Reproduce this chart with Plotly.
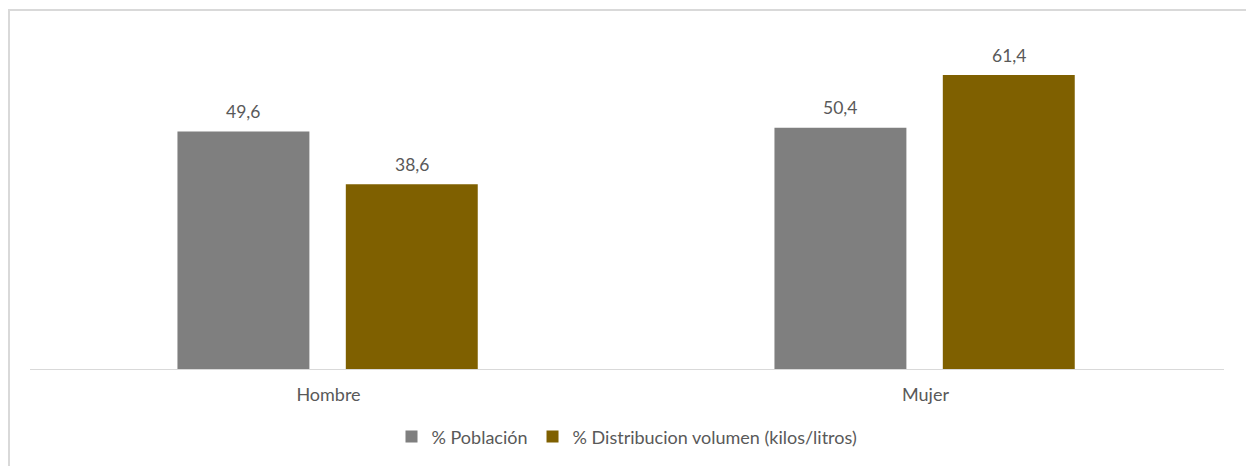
import plotly.graph_objects as go

categories = ["Hombre", "Mujer"]
series_names = ["% Población", "% Distribucion volumen (kilos/litros)"]
poblacion = [49.6, 50.4]
distribucion = [38.6, 61.4]
colors = ["#7F7F7F", "#7F6000"]

bar_width = 0.221
offsets = [-0.253, 0.029]
FONT = "Lato"
TXT = "#595959"

fig = go.Figure()
for name, vals, col, off in zip(series_names, [poblacion, distribucion], colors, offsets):
    fig.add_trace(go.Bar(
        x=categories, y=vals, name=name, marker_color=col,
        width=bar_width, offset=off, marker_line_width=0,
    ))

annotations = []
for vals, off in zip([poblacion, distribucion], offsets):
    for i, v in enumerate(vals):
        annotations.append(dict(
            x=i + off + bar_width / 2, y=v, xref="x", yref="y",
            text=f"{v:.1f}".replace(".", ","), showarrow=False,
            yanchor="middle", yshift=20,
            font=dict(family=FONT, size=17.5, color=TXT),
        ))

fig.update_layout(
    width=1246, height=458,
    margin=dict(l=22, r=30, t=12, b=96),
    paper_bgcolor="white", plot_bgcolor="white",
    barmode="group",
    showlegend=True,
    legend=dict(orientation="h", x=0.5, xanchor="center", y=-0.191, yanchor="middle",
                font=dict(family=FONT, size=18, color=TXT),
                tracegroupgap=0),
    annotations=annotations,
    shapes=[dict(type="rect", xref="paper", yref="paper",
                 x0=-0.0176, x1=1.0193, y0=-0.5, y1=1.0286,
                 line=dict(color="#D9D9D9", width=2), fillcolor="rgba(0,0,0,0)", layer="below")],
)
fig.update_xaxes(range=[-0.5, 1.5], showline=True, linecolor="#D9D9D9", linewidth=1,
                 ticks="", showgrid=False, ticklabelstandoff=9,
                 tickfont=dict(family=FONT, size=18, color=TXT))
fig.update_yaxes(range=[0, 72.9], visible=False, showgrid=False, zeroline=False)

fig.write_html("out.html")
